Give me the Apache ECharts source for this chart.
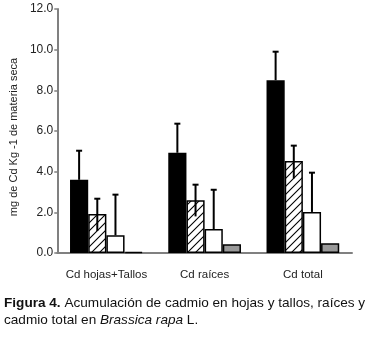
<!DOCTYPE html>
<html>
<head>
<meta charset="utf-8">
<script src="https://cdn.jsdelivr.net/npm/echarts@6/dist/echarts.min.js"></script>
<style>
  html, body { margin: 0; padding: 0; background: #fff; }
  #chart { width: 375px; height: 345px; }
</style>
</head>
<body>
<div id="chart"></div>
<script>
const categories = ["Cd hojas+Tallos", "Cd raíces", "Cd total"];
const blackVals = [3.6, 4.93, 8.5];
const hatchVals = [1.92, 2.6, 4.52];
const whiteVals = [0.87, 1.18, 2.02];
const grayVals = [0.06, 0.43, 0.48];
// error bar ends (low, high)
const blackHigh = [5.03, 6.36, 9.9];
const hatchLow = [1.08, 1.8, 3.67];
const hatchHigh = [2.67, 3.36, 5.28];
const whiteHigh = [2.87, 3.11, 3.95];
const yTicks = [0, 2, 4, 6, 8, 10, 12];

const GAP = 0.26;
const FONT = "Liberation Sans, Arial, sans-serif";

// diagonal hatch pattern
const P = 8;
const pat = document.createElement("canvas");
pat.width = P;
pat.height = P;
const pc = pat.getContext("2d");
pc.fillStyle = "#fff";
pc.fillRect(0, 0, P, P);
pc.strokeStyle = "#000";
pc.lineWidth = 1.1;
pc.beginPath();
pc.moveTo(0, P); pc.lineTo(P, 0);
pc.moveTo(-1, 1); pc.lineTo(1, -1);
pc.moveTo(P - 1, P + 1); pc.lineTo(P + 1, P - 1);
pc.stroke();

const errData = [];
categories.forEach((c, i) => {
  errData.push([i, blackVals[i], blackHigh[i], 0]);
  errData.push([i, hatchLow[i], hatchHigh[i], 1]);
  errData.push([i, whiteVals[i], whiteHigh[i], 2]);
});

function bar(name, data, color) {
  return {
    name,
    type: "bar",
    data,
    barGap: "0%",
    barCategoryGap: GAP * 100 + "%",
    itemStyle: { color, borderColor: "#000", borderWidth: 1.5 },
  };
}

const chart = echarts.init(document.getElementById("chart"));
chart.setOption({
  animation: false,
  backgroundColor: "#fff",
  grid: { left: 52, right: 23, top: 9, bottom: 92 },
  xAxis: {
    type: "category",
    data: categories,
    axisLine: { lineStyle: { color: "#808080", width: 2 } },
    axisTick: { show: false },
    axisLabel: { color: "#222", fontSize: 11.5, fontFamily: FONT, margin: 16, interval: 0 },
  },
  yAxis: {
    type: "value",
    min: 0,
    max: 12,
    interval: 2,
    name: "mg de Cd Kg -1 de materia seca",
    nameLocation: "middle",
    nameGap: 29,
    nameTextStyle: { color: "#222", fontSize: 11, fontFamily: FONT, padding: [0, 12, 0, 0] },
    axisLine: { show: true, lineStyle: { color: "#808080", width: 2 } },
    axisTick: { show: true, length: 3, lineStyle: { color: "#808080", width: 1.5 } },
    splitLine: { show: false },
    axisLabel: {
      color: "#222",
      fontSize: 12,
      fontFamily: FONT,
      margin: 4,
      formatter: (v) => (yTicks.includes(v) ? v.toFixed(1) : ""),
    },
  },
  series: [
    bar("a", blackVals, "#000"),
    bar("b", hatchVals, { image: pat, repeat: "repeat" }),
    bar("c", whiteVals, "#fff"),
    bar("d", grayVals, "#999"),
    {
      type: "custom",
      z: 10,
      data: errData,
      renderItem: (params, api) => {
        const cat = api.value(0);
        const lo = api.coord([cat, api.value(1)]);
        const hi = api.coord([cat, api.value(2)]);
        const band = api.size([1, 0])[0];
        const bw = (band * (1 - GAP)) / 4;
        const x = lo[0] + (api.value(3) - 1.5) * bw;
        const style = { stroke: "#000", lineWidth: 2 };
        return {
          type: "group",
          children: [
            { type: "line", shape: { x1: x, y1: lo[1], x2: x, y2: hi[1] }, style },
            { type: "line", shape: { x1: x - 3, y1: hi[1], x2: x + 3, y2: hi[1] }, style },
          ],
        };
      },
    },
  ],
  graphic: [
    {
      type: "text",
      left: 4,
      top: 295,
      style: {
        text: "{b|Figura 4.} Acumulación de cadmio en hojas y tallos, raíces y\ncadmio total en {i|Brassica rapa} L.",
        fontSize: 13.6,
        fontFamily: FONT,
        fill: "#111",
        lineHeight: 17,
        rich: {
          b: { fontWeight: "bold", fontSize: 13.6, fontFamily: FONT, fill: "#111" },
          i: { fontStyle: "italic", fontSize: 13.6, fontFamily: FONT, fill: "#111" },
        },
      },
    },
  ],
});
</script>
</body>
</html>
